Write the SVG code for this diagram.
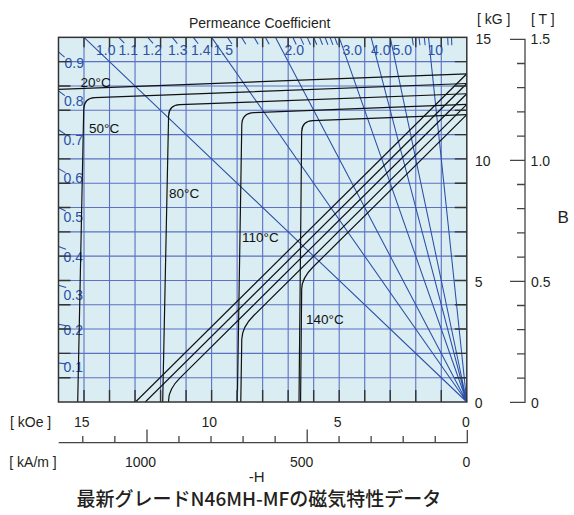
<svg xmlns="http://www.w3.org/2000/svg" width="574" height="515" viewBox="0 0 574 515">
<defs>
<style>
.t{font-family:"Liberation Sans",Arial,sans-serif;font-size:14px;fill:#231f20}
.tc{font-family:"Liberation Sans",Arial,sans-serif;font-size:13.5px;fill:#111}
.pc{font-family:"Liberation Sans",Arial,sans-serif;font-size:14px;fill:#2c50a8}
.grid{fill:none;stroke:#5d70c3;stroke-width:1.1}
.pcl{fill:none;stroke:#2a4fa9;stroke-width:1.05}
.tick{fill:none;stroke:#333;stroke-width:1.4}
.crv{fill:none;stroke:#111;stroke-width:1.2}
.ax{fill:none;stroke:#444;stroke-width:1.3}
</style>
<clipPath id="plotclip"><rect x="58.48" y="37.35" width="408.32" height="364.65"/></clipPath>
</defs>
<rect width="574" height="515" fill="#fff"/>

<g id="plot-area">
<rect x="58.48" y="37.35" width="408.32" height="364.65" fill="#d9edf2"/>
<path class="grid" d="M441.28,37.35V402M415.76,37.35V402M390.24,37.35V402M364.72,37.35V402M339.2,37.35V402M313.68,37.35V402M288.16,37.35V402M262.64,37.35V402M237.12,37.35V402M211.6,37.35V402M186.08,37.35V402M160.56,37.35V402M135.04,37.35V402M109.52,37.35V402M84,37.35V402M58.48,377.69H466.8M58.48,353.38H466.8M58.48,329.07H466.8M58.48,304.76H466.8M58.48,280.45H466.8M58.48,256.14H466.8M58.48,231.83H466.8M58.48,207.52H466.8M58.48,183.21H466.8M58.48,158.9H466.8M58.48,134.59H466.8M58.48,110.28H466.8M58.48,85.97H466.8M58.48,61.66H466.8"/>
</g>

<g id="permeance-lines">
<path class="pcl" d="M466.8,402L84,37.35M466.8,402L211.6,37.35M466.8,402L275.4,37.35M466.8,402L339.2,37.35M466.8,402L371.1,37.35M466.8,402L390.24,37.35M466.8,402L428.52,37.35"/>
<path class="pcl" d="M118.8,37.35L124.32,43.14M147.8,37.35L153.07,43.37M172.34,37.35L177.37,43.57M193.37,37.35L198.17,43.75M227.55,37.35L231.94,44.04M241.62,37.35L245.82,44.16M254.13,37.35L258.16,44.26M265.33,37.35L269.2,44.35M292.8,37.35L296.25,44.57M300.37,37.35L303.69,44.63M307.3,37.35L310.5,44.68M313.68,37.35L316.78,44.73M319.57,37.35L322.57,44.77M325.02,37.35L327.92,44.81M330.09,37.35L332.9,44.84M334.8,37.35L337.52,44.87M412.11,37.35L413.3,45.26M418.95,37.35L419.99,45.28M424.27,37.35L425.2,45.3M447.66,37.35L448.08,45.34M451.49,37.35L451.83,45.34"/>
<path class="pcl" d="M58.48,51.94L64.55,57.15M58.48,90.83L64.84,95.68M58.48,129.73L65.14,134.17M58.48,168.62L65.43,172.59M58.48,207.52L65.7,210.96M58.48,246.42L65.96,249.27M58.48,285.31L66.17,287.51M58.48,324.21L66.34,325.71M58.48,363.1L66.44,363.86"/>
<text class="pc" x="96" y="54.5">1.0</text>
<text class="pc" x="118.5" y="54.5">1.1</text>
<text class="pc" x="142.5" y="54.5">1.2</text>
<text class="pc" x="168" y="54.5">1.3</text>
<text class="pc" x="191" y="54.5">1.4</text>
<text class="pc" x="213.5" y="54.5">1.5</text>
<text class="pc" x="284.5" y="54.5">2.0</text>
<text class="pc" x="342.5" y="54.5">3.0</text>
<text class="pc" x="371" y="54.5">4.0</text>
<text class="pc" x="392.5" y="54.5">5.0</text>
<text class="pc" x="427.5" y="54.5">10</text>
<text class="pc" x="64.5" y="67.7">0.9</text>
<text class="pc" x="64" y="106">0.8</text>
<text class="pc" x="63.5" y="145">0.7</text>
<text class="pc" x="63.5" y="183.3">0.6</text>
<text class="pc" x="63.5" y="221.7">0.5</text>
<text class="pc" x="63.5" y="261.7">0.4</text>
<text class="pc" x="63.5" y="300">0.3</text>
<text class="pc" x="63.5" y="335">0.2</text>
<text class="pc" x="63.5" y="371.7">0.1</text>
</g>

<g id="demag-curves" clip-path="url(#plotclip)">
<path class="crv" d="M466.8,73.8L58.48,89.4"/>
<path class="crv" d="M466.8,73.8L135.5,402"/>
<path class="crv" d="M466.8,83.5L94.96,97.67Q83.96,98.08 83.73,109.08L77.7,402"/>
<path class="crv" d="M466.8,83.5L145.3,402"/>
<path class="crv" d="M466.8,93.75L179.81,104.68Q168.81,105.1 168.59,116.1L162.7,402"/>
<path class="crv" d="M466.8,93.75L179.81,378.07Q168.81,388.97 168.59,400.18L162.7,691.7"/>
<path class="crv" d="M466.8,104.45L253.98,112.56Q241.98,113.01 241.78,125.01L237.3,402"/>
<path class="crv" d="M466.8,104.45L253.98,315.29Q241.98,327.17 241.78,339.36L237.3,620.6"/>
<path class="crv" d="M466.8,114.66L312.78,120.53Q301.78,120.94 301.67,131.94L299,402"/>
<path class="crv" d="M466.8,114.66L312.78,267.25Q301.78,278.14 301.67,289.24L299,561.85"/>
</g>

<g id="temperature-labels">
<text class="tc" x="80.5" y="87.3">20°C</text>
<text class="tc" x="89" y="133.3">50°C</text>
<text class="tc" x="169" y="198.3">80°C</text>
<text class="tc" x="242" y="242.3">110°C</text>
<text class="tc" x="306" y="324.3">140°C</text>
</g>

<g id="plot-frame">
<rect x="58.48" y="37.35" width="408.32" height="364.65" fill="none" stroke="#333" stroke-width="1.5"/>
<path class="tick" d="M58.48,377.69h12M58.48,353.38h12M58.48,329.07h12M58.48,304.76h12M58.48,280.45h12M58.48,256.14h12M58.48,231.83h12M58.48,207.52h12M58.48,183.21h12M58.48,158.9h12M58.48,134.59h12M58.48,110.28h12M58.48,85.97h12M58.48,61.66h12M466.8,377.69h-12M466.8,353.38h-12M466.8,329.07h-12M466.8,304.76h-12M466.8,280.45h-12M466.8,256.14h-12M466.8,231.83h-12M466.8,207.52h-12M466.8,183.21h-12M466.8,158.9h-12M466.8,134.59h-12M466.8,110.28h-12M466.8,85.97h-12M466.8,61.66h-12M441.28,402v-12M415.76,402v-12M390.24,402v-12M364.72,402v-12M339.2,402v-12M313.68,402v-12M288.16,402v-12M262.64,402v-12M237.12,402v-12M211.6,402v-12M186.08,402v-12M160.56,402v-12M135.04,402v-12M109.52,402v-12M84,402v-12M441.28,37.35v10M415.76,37.35v10M390.24,37.35v10M364.72,37.35v10M339.2,37.35v10M313.68,37.35v10M288.16,37.35v10M262.64,37.35v10M237.12,37.35v10M211.6,37.35v10M186.08,37.35v10M160.56,37.35v10M135.04,37.35v10M109.52,37.35v10M84,37.35v10"/>
</g>

<g id="title-permeance">
<text class="t" x="189" y="27.5">Permeance Coefficient</text>
</g>

<g id="axis-b">
<path class="ax" d="M510,39.3H525V402.3H510M510,281.3H525M510,160.3H525M517,378.1H525M517,353.9H525M517,329.7H525M517,305.5H525M517,257.1H525M517,232.9H525M517,208.7H525M517,184.5H525M517,136.1H525M517,111.9H525M517,87.7H525M517,63.5H525"/>
<text class="t" x="477" y="24">[ kG ]</text>
<text class="t" x="531" y="24">[ T ]</text>
<text class="t" x="475.5" y="44.3">15</text>
<text class="t" x="475" y="166">10</text>
<text class="t" x="474.8" y="286.7">5</text>
<text class="t" x="474.8" y="408">0</text>
<text class="t" x="530.6" y="44.3">1.5</text>
<text class="t" x="530.6" y="166">1.0</text>
<text class="t" x="531" y="286.7">0.5</text>
<text class="t" x="531" y="408">0</text>
<text class="t" x="557.5" y="223" style="font-size:17px">B</text>
</g>

<g id="axis-h">
<text class="t" x="10" y="427">[ kOe ]</text>
<text class="t" x="81.7" y="427" text-anchor="middle">15</text>
<text class="t" x="209.2" y="427" text-anchor="middle">10</text>
<text class="t" x="337.7" y="427" text-anchor="middle">5</text>
<text class="t" x="466" y="427" text-anchor="middle">0</text>
<path class="ax" d="M58.7,442.7H467.3V430M307.2,442.7V429.5M147,442.7V429.5M435.24,442.7v-6.7M403.18,442.7v-6.7M371.12,442.7v-6.7M339.06,442.7v-6.7M275.14,442.7v-6.7M243.08,442.7v-6.7M211.02,442.7v-6.7M178.96,442.7v-6.7M114.84,442.7v-6.7M82.78,442.7v-6.7"/>
<text class="t" x="9.3" y="467.3">[ kA/m ]</text>
<text class="t" x="140.5" y="467.3" text-anchor="middle">1000</text>
<text class="t" x="301.7" y="467.3" text-anchor="middle">500</text>
<text class="t" x="466.3" y="467.3" text-anchor="middle">0</text>
<text class="t" x="256.6" y="482" text-anchor="middle" style="font-size:15px">-H</text>
</g>

<g id="caption">
<text x="259" y="505.5" text-anchor="middle" style="font-family:'Noto Sans CJK JP','Noto Sans CJK SC',sans-serif;font-size:19px;font-weight:500;fill:#231f20">最新グレードN46MH-MFの磁気特性データ</text>
</g>
</svg>
